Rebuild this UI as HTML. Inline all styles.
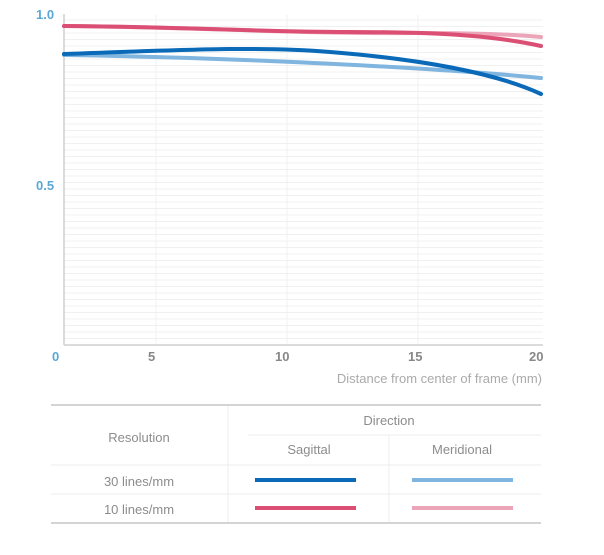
<!DOCTYPE html>
<html><head><style>
body{margin:0;background:#fff;width:604px;height:550px;overflow:hidden;font-family:"Liberation Sans",sans-serif}
</style></head><body>
<svg width="604" height="550" xmlns="http://www.w3.org/2000/svg" font-family="Liberation Sans, sans-serif">
<g stroke="#f0f0f0">
<line x1="64" y1="20" x2="543" y2="20"/><line x1="64" y1="26.5" x2="543" y2="26.5"/><line x1="64" y1="33" x2="543" y2="33"/><line x1="64" y1="39.5" x2="543" y2="39.5"/><line x1="64" y1="46" x2="543" y2="46"/><line x1="64" y1="52.5" x2="543" y2="52.5"/><line x1="64" y1="59" x2="543" y2="59"/><line x1="64" y1="65.5" x2="543" y2="65.5"/><line x1="64" y1="72" x2="543" y2="72"/><line x1="64" y1="78.5" x2="543" y2="78.5"/><line x1="64" y1="85" x2="543" y2="85"/><line x1="64" y1="91.5" x2="543" y2="91.5"/><line x1="64" y1="98" x2="543" y2="98"/><line x1="64" y1="104.5" x2="543" y2="104.5"/><line x1="64" y1="111" x2="543" y2="111"/><line x1="64" y1="117.5" x2="543" y2="117.5"/><line x1="64" y1="124" x2="543" y2="124"/><line x1="64" y1="130.5" x2="543" y2="130.5"/><line x1="64" y1="137" x2="543" y2="137"/><line x1="64" y1="143.5" x2="543" y2="143.5"/><line x1="64" y1="150" x2="543" y2="150"/><line x1="64" y1="156.5" x2="543" y2="156.5"/><line x1="64" y1="163" x2="543" y2="163"/><line x1="64" y1="169.5" x2="543" y2="169.5"/><line x1="64" y1="176" x2="543" y2="176"/><line x1="64" y1="182.5" x2="543" y2="182.5"/><line x1="64" y1="189" x2="543" y2="189"/><line x1="64" y1="195.5" x2="543" y2="195.5"/><line x1="64" y1="202" x2="543" y2="202"/><line x1="64" y1="208.5" x2="543" y2="208.5"/><line x1="64" y1="215" x2="543" y2="215"/><line x1="64" y1="221.5" x2="543" y2="221.5"/><line x1="64" y1="228" x2="543" y2="228"/><line x1="64" y1="234.5" x2="543" y2="234.5"/><line x1="64" y1="241" x2="543" y2="241"/><line x1="64" y1="247.5" x2="543" y2="247.5"/><line x1="64" y1="254" x2="543" y2="254"/><line x1="64" y1="260.5" x2="543" y2="260.5"/><line x1="64" y1="267" x2="543" y2="267"/><line x1="64" y1="273.5" x2="543" y2="273.5"/><line x1="64" y1="280" x2="543" y2="280"/><line x1="64" y1="286.5" x2="543" y2="286.5"/><line x1="64" y1="293" x2="543" y2="293"/><line x1="64" y1="299.5" x2="543" y2="299.5"/><line x1="64" y1="306" x2="543" y2="306"/><line x1="64" y1="312.5" x2="543" y2="312.5"/><line x1="64" y1="319" x2="543" y2="319"/><line x1="64" y1="325.5" x2="543" y2="325.5"/><line x1="64" y1="332" x2="543" y2="332"/><line x1="64" y1="338.5" x2="543" y2="338.5"/>
<line x1="156" y1="15" x2="156" y2="345"/><line x1="287" y1="15" x2="287" y2="345"/><line x1="418" y1="15" x2="418" y2="345"/>
</g>
<line x1="64" y1="14" x2="64" y2="345" stroke="#cfcfcf" stroke-width="1.5"/>
<line x1="64" y1="345" x2="543" y2="345" stroke="#cfcfcf" stroke-width="1.5"/>
<g fill="none" stroke-width="4" stroke-linecap="round">
<path d="M64 26 C200 27 300 34 416 33 C480 33 520 35 541 37" stroke="#eba4b8"/>
<path d="M64 26 C200 27 250 32 350 32 C450 32 500 37 541 46" stroke="#dc4f75"/>
<path d="M64 55 C200 57 350 64 440 70 C490 73 520 76 541 78" stroke="#7fb5df"/>
<path d="M64 54 C180 50 260 46 330 52 C430 60 500 75 541 94" stroke="#0a6ab8"/>
</g>
<g font-weight="bold" font-size="13" fill="#888">
<text x="36" y="19" fill="#5aa7d6">1.0</text>
<text x="36" y="190" fill="#5aa7d6">0.5</text>
<text x="52" y="361" fill="#5aa7d6">0</text>
<text x="148" y="361">5</text>
<text x="275" y="361">10</text>
<text x="408" y="361">15</text>
<text x="529" y="361">20</text>
</g>
<text x="542" y="383" font-size="13" fill="#aaa" text-anchor="end">Distance from center of frame (mm)</text>
<g stroke="#d4d4d4" stroke-width="2"><line x1="51" y1="405" x2="541" y2="405"/><line x1="51" y1="523" x2="541" y2="523"/></g>
<g stroke="#ececec" stroke-width="1">
<line x1="248" y1="435" x2="541" y2="435"/><line x1="51" y1="465" x2="541" y2="465"/><line x1="51" y1="494" x2="541" y2="494"/>
<line x1="228" y1="406" x2="228" y2="522"/><line x1="389" y1="435" x2="389" y2="522"/>
</g>
<g font-size="13" fill="#8c8c8c" text-anchor="middle">
<text x="139" y="442">Resolution</text>
<text x="389" y="425">Direction</text>
<text x="309" y="454">Sagittal</text>
<text x="462" y="454">Meridional</text>
<text x="139" y="486">30 lines/mm</text>
<text x="139" y="514">10 lines/mm</text>
</g>
<rect x="255" y="478" width="101" height="4" fill="#0a6ab8"/>
<rect x="412" y="478" width="101" height="4" fill="#7fb5df"/>
<rect x="255" y="506" width="101" height="4" fill="#dc4f75"/>
<rect x="412" y="506" width="101" height="4" fill="#eba4b8"/>
</svg>
</body></html>
